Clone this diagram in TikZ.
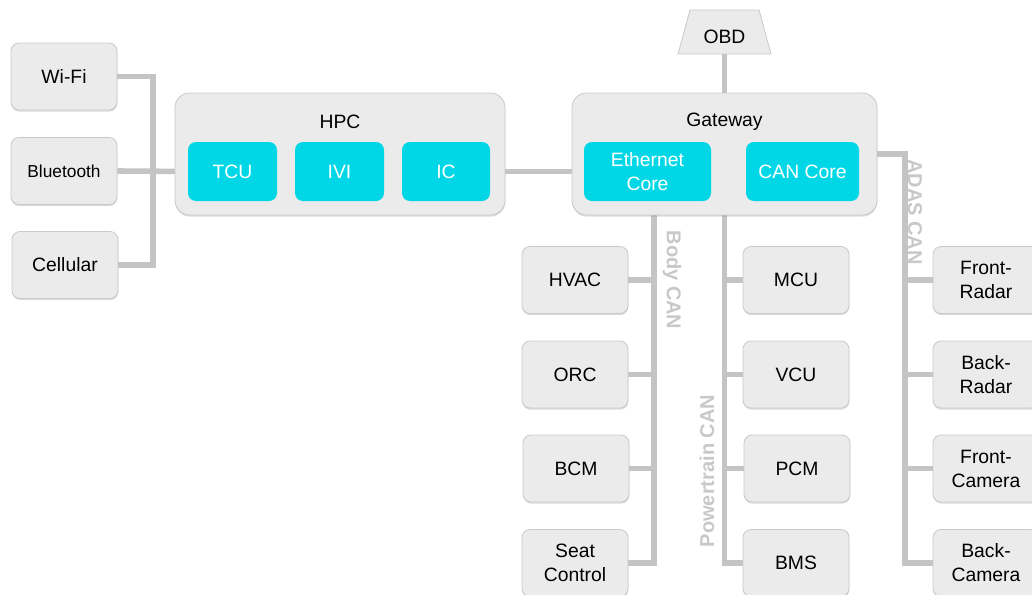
\documentclass[tikz,border=0pt]{standalone}
\usepackage{fontspec}
\setmainfont{Liberation Sans}
\usetikzlibrary{shadows,backgrounds,calc}
\definecolor{boxfill}{HTML}{EBEBEB}
\definecolor{boxline}{HTML}{C9C9C9}
\definecolor{corecyan}{HTML}{00D7E6}
\definecolor{busgray}{HTML}{C4C4C4}
\definecolor{buslabel}{HTML}{C8C8C8}
\begin{document}
\begin{tikzpicture}[x=0.75pt,y=-0.75pt,
  ecu/.style={draw=boxline, line width=0.6pt, fill=boxfill, rounded corners=6pt,
    inner sep=0pt, align=center, font=\fontsize{14.5}{18}\selectfont,
    minimum width=106*0.75pt, minimum height=67*0.75pt,
    drop shadow={opacity=0.28, shadow xshift=0.2pt, shadow yshift=-1.2pt}},
  unit/.style={ecu, rounded corners=11pt, minimum width=#1},
  core/.style={fill=corecyan, draw=none, rounded corners=6pt, inner sep=0pt,
    align=center, text=white, font=\fontsize{14.5}{18}\selectfont,
    minimum height=59*0.75pt, minimum width=#1},
  obdport/.style={fill=boxfill, draw=boxline, line width=0.6pt},
  title/.style={font=\fontsize{14.5}{18}\selectfont, inner sep=0pt},
  bus/.style={draw=busgray, line width=4.2pt},
  buslbl/.style={text=buslabel, font=\fontsize{15}{18}\selectfont\bfseries, inner sep=0pt}]

\useasboundingbox (0,0) rectangle (1032,594);
\clip (0,0) rectangle (1032,594);

% wireless links
\node[ecu] (wifi) at (64,76.5) {Wi-Fi};
\node[ecu, font=\fontsize{13}{16}\selectfont] (bt) at (64,171) {Bluetooth};
\node[ecu] (cell) at (65,265) {Cellular};

% high performance computer
\node[unit=330*0.75pt, minimum height=122*0.75pt] (hpc) at (340,154) {};
\node[title] (hpct) at (340,122) {HPC};
\node[core=89*0.75pt] (tcu) at (232.5,171.5) {TCU};
\node[core=89*0.75pt] (ivi) at (339.5,171.5) {IVI};
\node[core=88*0.75pt] (ic) at (446,171.5) {IC};

% gateway
\node[unit=305*0.75pt, minimum height=122*0.75pt] (gw) at (724.5,154) {};
\node[title] (gwt) at (724.5,122) {Gateway};
\node[core=127*0.75pt] (eth) at (647.5,171.5) {Ethernet\\Core};
\node[core=113*0.75pt] (cancore) at (802.5,171.5) {CAN Core};

% diagnostics port
\path[obdport] (678,54) -- (690,10) -- (759,10) -- (771,54) -- cycle;
\node[title] (obd) at (724.5,37) {OBD};
\coordinate (obdfoot) at (724.5,54);

% body CAN members
\node[ecu] (hvac) at (575,280) {HVAC};
\node[ecu] (orc)  at (575,374.5) {ORC};
\node[ecu] (bcm)  at (576,468.5) {BCM};
\node[ecu] (seat) at (575,563) {Seat\\Control};

% powertrain CAN members
\node[ecu] (mcu) at (796,280) {MCU};
\node[ecu] (vcu) at (796,374.5) {VCU};
\node[ecu] (pcm) at (797,468.5) {PCM};
\node[ecu] (bms) at (796,563) {BMS};

% ADAS CAN members
\node[ecu] (fradar) at (986,280) {Front-\\Radar};
\node[ecu] (bradar) at (986,374.5) {Back-\\Radar};
\node[ecu] (fcam)   at (986,468.5) {Front-\\Camera};
\node[ecu] (bcam)   at (986,563) {Back-\\Camera};

% bus labels
\node[buslbl, rotate=-90] (bodylbl) at (672,280) {Body CAN};
\node[buslbl, rotate=90] (ptlbl) at (707,471) {Powertrain CAN};
\node[buslbl, rotate=-90] (adaslbl) at (915,212) {ADAS CAN};

% bus trunks
\coordinate (hub) at (153,0);
\coordinate (body) at (654,0);
\coordinate (adas) at (905,0);

\begin{scope}[on background layer]
  \draw[bus] (wifi.east) -- (wifi.east -| hub) |- (cell.east);
  \draw[bus] (bt.east) -- (tcu.west);
  \draw[bus] (ic.east) -- (eth.west);
  \draw[bus] (obdfoot) -- (gw.north);
  % ADAS CAN
  \draw[bus] (gw.east) -| (adas |- bcam.west) -- (bcam.west);
  \foreach \n in {fradar,bradar,fcam} \draw[bus] (adas |- \n.west) -- (\n.west);
  % body CAN
  \draw[bus] (gw.south -| body) -- (body |- seat.east) -- (seat.east);
  \foreach \n in {hvac,orc,bcm} \draw[bus] (body |- \n.east) -- (\n.east);
  % powertrain CAN
  \draw[bus] (gw.south) -- (gw.south |- bms.west) -- (bms.west);
  \foreach \n in {mcu,vcu,pcm} \draw[bus] (gw.south |- \n.west) -- (\n.west);
\end{scope}
\end{tikzpicture}
\end{document}
